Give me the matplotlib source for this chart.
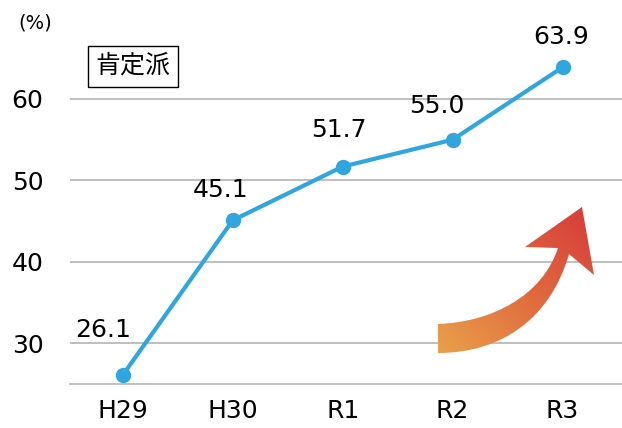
import numpy as np
import matplotlib
matplotlib.use("Agg")
import matplotlib.pyplot as plt
from matplotlib.path import Path
from matplotlib.patches import PathPatch
from matplotlib.colors import LinearSegmentedColormap

plt.rcParams['font.family'] = ['DejaVu Sans', 'Noto Sans CJK JP']

# data
years = ["H29", "H30", "R1", "R2", "R3"]
values = [26.1, 45.1, 51.7, 55.0, 63.9]
label_offsets = [(-20, 45), (-12, 30), (-4, 37), (-16, 34), (-1, 30)]  # pixels
yticks = [30, 40, 50, 60]

W, H = 622, 428
fig = plt.figure(figsize=(W / 100, H / 100), dpi=100)
ax = fig.add_axes([70 / W, (H - 384) / H, 1 - 70 / W, (384 - 20) / H])

x = np.arange(len(years))
ax.plot(x, values, color="#2EA6DF", lw=3, marker="o", ms=10, zorder=3, clip_on=False)
for xi, v, (dx, dy) in zip(x, values, label_offsets):
    ax.annotate(f"{v:.1f}", (xi, v), xytext=(dx, dy), textcoords="offset pixels",
                ha="center", va="center", fontsize=18, color="black")

ax.set_xlim(-0.48, 4.54)
ax.set_ylim(25, 69.7)
ax.set_yticks(yticks)
ax.set_yticklabels([str(t) for t in yticks], fontsize=18)
ax.set_xticks(x)
ax.set_xticklabels(years, fontsize=18)
ax.tick_params(length=0)
ax.tick_params(axis="y", pad=19)
ax.tick_params(axis="x", pad=11)
ax.grid(axis="y", color="#b4b4b4", lw=1.2)
ax.set_axisbelow(True)
for s in ["top", "right", "left"]:
    ax.spines[s].set_visible(False)
ax.spines["bottom"].set_color("#b4b4b4")
ax.spines["bottom"].set_linewidth(1.2)

fig.text(35 / W, 1 - 23 / H, "(%)", ha="center", va="center", fontsize=14)
fig.text(133 / W, 1 - 66 / H, "肯定派", ha="center", va="center", fontsize=18,
         family="Noto Sans CJK JP",
         bbox=dict(boxstyle="square,pad=0.3", fc="white", ec="black", lw=1))

# decorative curved arrow (overlay in pixel coords)
ov = fig.add_axes([0, 0, 1, 1], zorder=5)
ov.set_xlim(0, W)
ov.set_ylim(H, 0)
ov.axis("off")
verts = [(438, 324),
         (492, 322), (542, 296), (558, 248),
         (525, 247), (582, 207), (594, 275), (569, 254),
         (550, 320), (500, 353), (438, 353),
         (438, 324)]
codes = [Path.MOVETO,
         Path.CURVE4, Path.CURVE4, Path.CURVE4,
         Path.LINETO, Path.LINETO, Path.LINETO, Path.LINETO,
         Path.CURVE4, Path.CURVE4, Path.CURVE4,
         Path.CLOSEPOLY]
patch = PathPatch(Path(verts, codes), fc="none", ec="none")
ov.add_patch(patch)
cmap = LinearSegmentedColormap.from_list("arr", ["#E9A24B", "#E06A3D", "#D6393A"])
gx, gy = np.meshgrid(np.linspace(0, 1, 200), np.linspace(0, 1, 200))
grad = (gx + gy) / 2
img = ov.imshow(grad, cmap=cmap, extent=[436, 596, 355, 205], origin="lower",
                aspect="auto", interpolation="bilinear")
img.set_clip_path(patch)

fig.savefig("out.png", dpi=100)
